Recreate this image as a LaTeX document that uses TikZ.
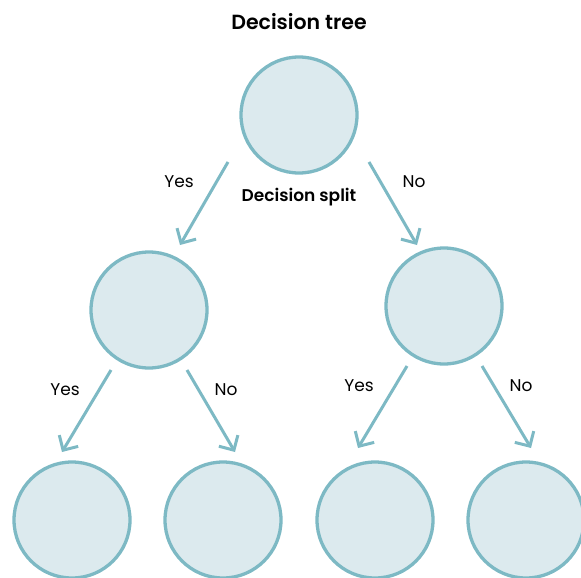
\documentclass[tikz,border=0pt]{standalone}
\usepackage{fontspec}
\setmainfont{Poppins}
\newfontfamily\semib{Poppins SemiBold}
\usetikzlibrary{arrows.meta}
\definecolor{edge}{HTML}{7DB9C4}
\definecolor{cfill}{HTML}{DCEAEE}
\begin{document}
\begin{tikzpicture}[x=1pt,y=-1pt,
  treenode/.style={circle,draw=edge,fill=cfill,line width=3.3pt,minimum size=116pt,inner sep=0pt},
  link/.style={draw=edge,line width=3pt,-{Straight Barb[length=11pt,width=22pt,line width=3pt]}},
  lbl/.style={font=\fontsize{17}{20}\selectfont,text=black},
  ttl/.style={font=\semib\fontsize{20.5}{24}\selectfont,text=black}]
\useasboundingbox (0,0) rectangle (581,578);
\node[ttl] (title) at (299,22) {Decision tree};
\node[treenode] (r) at (299,115) {};
\node[lbl,font=\semib\fontsize{17}{20}\selectfont] (split) at (299,197) {Decision split};
\node[treenode] (a) at (149,310) {};
\node[treenode] (b) at (444,306) {};
\node[treenode] (a1) at (72,520) {};
\node[treenode] (a2) at (223,520) {};
\node[treenode] (b1) at (375,520) {};
\node[treenode] (b2) at (526,520) {};
\coordinate (s1) at (228,162); \coordinate (e1) at (180,245);
\coordinate (s2) at (369,162); \coordinate (e2) at (417,245);
\coordinate (s3) at (111,370); \coordinate (e3) at (62,452);
\coordinate (s4) at (187,370); \coordinate (e4) at (235,452);
\coordinate (s5) at (407,366); \coordinate (e5) at (358,448);
\coordinate (s6) at (482,366); \coordinate (e6) at (531,448);
\draw[link] (s1) -- (e1);
\draw[link] (s2) -- (e2);
\draw[link] (s3) -- (e3);
\draw[link] (s4) -- (e4);
\draw[link] (s5) -- (e5);
\draw[link] (s6) -- (e6);
\node[lbl] (y1) at (179,182) {Yes};
\node[lbl] (n1) at (414,182) {No};
\node[lbl] (y2) at (65,390) {Yes};
\node[lbl] (n2) at (226,390) {No};
\node[lbl] (y3) at (359,386) {Yes};
\node[lbl] (n3) at (521,386) {No};
\end{tikzpicture}
\end{document}
